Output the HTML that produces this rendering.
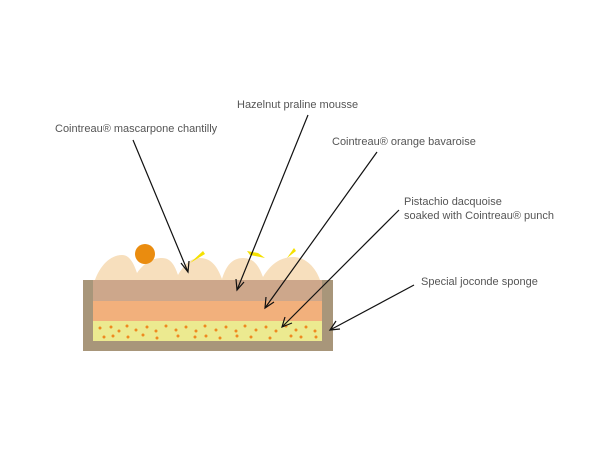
<!DOCTYPE html>
<html><head><style>
html,body{margin:0;padding:0;background:#fff;}
</style></head><body>
<svg width="600" height="452" viewBox="0 0 600 452" xmlns="http://www.w3.org/2000/svg" font-family="Liberation Sans, sans-serif" font-size="11" fill="#555">
<rect x="0" y="0" width="600" height="452" fill="#fff"/>
<!-- mounds -->
<path fill="#f7dfbd" d="M95,280 C100,266 110,255 122,255 C130,255 134,264 137,273 C144,263 152,258 162,258 C171,258 175,266 178,275 C184,265 190,258 200,258 C212,258 218,268 222,279 C226,266 232,258 243,258 C254,258 259,266 263,277 C270,265 280,257 293,257 C306,257 316,268 320,280 Z"/>
<!-- yellow slivers -->
<polygon points="190,263 203,251 205,254" fill="#f5e100"/>
<polygon points="247,251 258,253 265,258 250,255" fill="#f5e100"/>
<polygon points="287,258 294,248 296,251" fill="#f5e100"/>
<circle cx="145" cy="254" r="10" fill="#ea8c0f"/>
<!-- pan -->
<rect x="83" y="280" width="250" height="71" fill="#a8967a"/>
<rect x="93" y="280" width="229" height="21" fill="#cda78b"/>
<rect x="93" y="301" width="229" height="20" fill="#f2b07c"/>
<rect x="93" y="321" width="229" height="20" fill="#ecea90"/>
<g fill="#ee8a20">
<circle cx="100" cy="328" r="1.5"/><circle cx="111" cy="327" r="1.5"/><circle cx="119" cy="331" r="1.5"/><circle cx="127" cy="326" r="1.5"/><circle cx="136" cy="330" r="1.5"/><circle cx="147" cy="327" r="1.5"/><circle cx="156" cy="331" r="1.5"/><circle cx="166" cy="326" r="1.5"/><circle cx="176" cy="330" r="1.5"/><circle cx="186" cy="327" r="1.5"/><circle cx="196" cy="331" r="1.5"/><circle cx="205" cy="326" r="1.5"/><circle cx="216" cy="330" r="1.5"/><circle cx="226" cy="327" r="1.5"/><circle cx="236" cy="331" r="1.5"/><circle cx="245" cy="326" r="1.5"/><circle cx="256" cy="330" r="1.5"/><circle cx="266" cy="327" r="1.5"/><circle cx="276" cy="331" r="1.5"/><circle cx="286" cy="326" r="1.5"/><circle cx="296" cy="330" r="1.5"/><circle cx="306" cy="327" r="1.5"/><circle cx="315" cy="331" r="1.5"/>
<circle cx="104" cy="337" r="1.5"/><circle cx="113" cy="336" r="1.5"/><circle cx="128" cy="337" r="1.5"/><circle cx="143" cy="335" r="1.5"/><circle cx="157" cy="338" r="1.5"/><circle cx="178" cy="336" r="1.5"/><circle cx="195" cy="337" r="1.5"/><circle cx="206" cy="336" r="1.5"/><circle cx="220" cy="338" r="1.5"/><circle cx="237" cy="336" r="1.5"/><circle cx="251" cy="337" r="1.5"/><circle cx="270" cy="338" r="1.5"/><circle cx="291" cy="336" r="1.5"/><circle cx="301" cy="337" r="1.5"/><circle cx="316" cy="337" r="1.5"/>
</g>
<!-- labels -->
<text x="55" y="132">Cointreau® mascarpone chantilly</text>
<text x="237" y="108">Hazelnut praline mousse</text>
<text x="332" y="145">Cointreau® orange bavaroise</text>
<text x="404" y="205">Pistachio dacquoise</text>
<text x="404" y="219">soaked with Cointreau® punch</text>
<text x="421" y="285">Special joconde sponge</text>
<!-- arrows -->
<g stroke="#111" stroke-width="1.2" fill="none">
<line x1="133" y1="140" x2="188" y2="272"/>
<polyline points="181,263 188,272 189,261"/>
<line x1="308" y1="115" x2="237" y2="290"/>
<polyline points="236,279 237,290 244,282"/>
<line x1="377" y1="152" x2="265" y2="308"/>
<polyline points="266,297 265,308 274,302"/>
<line x1="399" y1="210" x2="282" y2="327"/>
<polyline points="285,317 282,327 292,323"/>
<line x1="414" y1="285" x2="330" y2="330"/>
<polyline points="336,321 330,330 340,329"/>
</g>
</svg>
</body></html>
